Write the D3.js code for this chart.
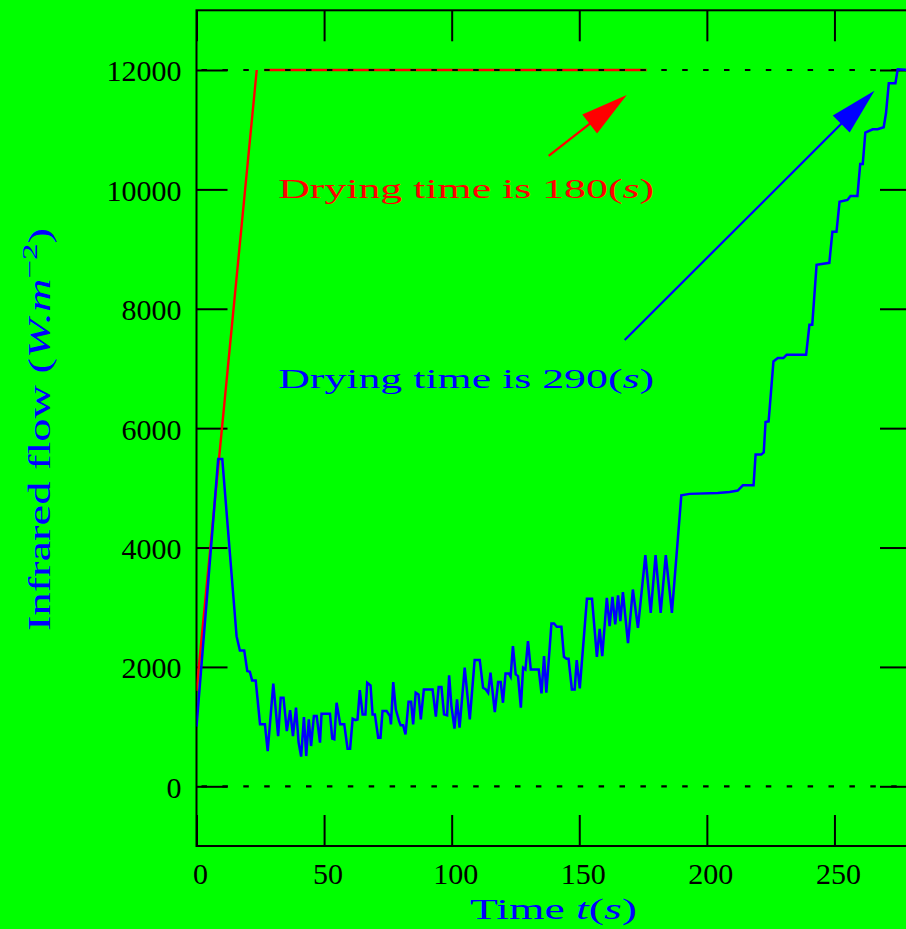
<!DOCTYPE html>
<html><head><meta charset="utf-8">
<script src="https://cdn.jsdelivr.net/npm/d3@7"></script>
<style>html,body{margin:0;padding:0;background:#00ff00;}svg{display:block;}</style>
</head><body>
<script>
// ---- data ----
const xTicks = [0, 50, 100, 150, 200, 250];
const yTicks = [0, 2000, 4000, 6000, 8000, 10000, 12000];
const refLevels = [0, 12000];

// measured series (blue): time (s), infrared flow (W.m^-2)
const blueTime = [0,8.5,10.1,15.7,17.0,18.7,19.9,20.9,21.8,23.2,24.9,26.8,27.9,30.1,32.0,33.0,34.1,35.4,36.7,37.8,39.0,40.0,41.0,42.1,43.0,44.0,44.9,46.0,47.1,48.4,49.0,52.3,53.2,54.0,54.9,56.3,57.9,59.2,60.2,61.2,62.3,63.1,64.0,65.1,66.2,66.9,68.2,69.0,69.9,71.2,72.1,72.9,74.5,75.8,76.2,77.1,78.1,79.4,80.0,81.0,81.9,83.1,84.1,84.9,85.9,87.0,87.9,89.1,92.5,93.8,94.9,96.0,97.0,98.2,99.0,99.9,101.1,102.1,103.1,105.1,107.1,109.0,111.0,112.3,113.4,114.3,115.2,116.9,118.2,119.2,120.1,121.1,122.4,123.1,124.0,125.1,126.0,127.1,128.0,128.9,129.9,131.0,134.1,135.2,136.2,137.1,139.1,140.1,141.2,143.0,144.0,145.0,145.8,147.1,148.2,149.0,150.2,153.0,155.0,156.9,158.0,159.0,160.8,161.9,163.0,164.1,165.2,166.1,167.1,169.1,171.0,173.0,175.9,178.0,179.9,181.9,183.9,186.3,190.0,193.2,204.3,208.9,212.1,214.1,218.3,219.1,221.3,222.3,223.0,224.2,226.1,227.8,230.0,231.3,238.9,240.2,241.3,243.0,248.0,249.2,250.8,252.0,255.1,256.3,259.0,260.1,261.1,262.1,265.0,266.9,269.3,270.2,271.3,273.9,274.8,280];
const blueFlow = [1000,5485,5485,2515,2276,2276,1930,1920,1774,1774,1040,1040,590,1720,840,1485,1485,925,1277,840,1317,736,497,1160,507,1121,675,1177,1177,731,1217,1217,800,787,1400,1040,1040,630,630,1133,1110,1120,1612,1205,1205,1735,1690,1205,1205,815,815,1260,1260,1177,1037,1746,1289,1093,1021,1021,870,1418,1418,1038,1568,1540,1121,1623,1623,1166,1662,1662,1205,1188,1858,1344,966,1456,982,1987,1121,2114,2114,1652,1623,1568,1903,1245,1746,1746,1400,1891,1891,1836,2348,1874,1846,1317,1987,1958,2432,1958,1958,1556,2181,1568,2728,2728,2673,2673,2170,2137,2137,1623,1623,2114,1640,3141,3141,2170,2639,2181,3158,2683,3175,2711,3197,2767,3252,2400,3297,2656,3872,2907,3872,2907,3872,2907,4876,4899,4915,4932,4954,5043,5043,5557,5557,5595,6104,6114,7118,7174,7174,7230,7230,7732,7732,8736,8770,9289,9289,9791,9824,9891,9891,10427,10427,10951,11007,11007,11041,11275,11777,11777,12012,12000];

// set-point series (red), NaN marks the break
const redTime = [0, 23.6, NaN, 26.6, 176.4];
const redFlow = [1600, 12000, NaN, 12000, 12000];

// annotations
const redArrow = {from: [138.0, 10560], to: [168.6, 11581]};
const blueArrow = {from: [167.8, 7478], to: [265.7, 11653]};
const redLabel = {t: 32, v: 10000, value: "180"};
const blueLabel = {t: 32, v: 6830, value: "290"};

// ---- drawing ----
const W = 906, H = 929;
const L = 196.5, R = 911, T = 10.3, B = 846;
const svg = d3.select('body').append('svg').attr('width', W).attr('height', H);
svg.append('rect').attr('width', W).attr('height', H).attr('fill', '#00ff00');

const x = d3.scaleLinear().domain([0, 280]).range([L, R]);
const y = d3.scaleLinear().domain([-1000, 13000]).range([B, T]);
const FONT = '"Liberation Serif", "DejaVu Serif", serif';

function styleAxis(g) {
  g.select('.domain').remove();
  g.selectAll('.tick line').attr('stroke', '#000').attr('stroke-width', 2);
}
// bottom
const gx = svg.append('g').attr('transform', `translate(0,${B})`)
  .call(d3.axisBottom(x).tickValues(xTicks).tickSizeInner(-31).tickSizeOuter(0).tickFormat(d3.format('d')));
styleAxis(gx);
gx.selectAll('text').attr('dy', null).attr('y', 38).attr('x', 3.5)
  .attr('font-family', FONT).attr('font-size', 30).attr('fill', '#000');
// top
const gt = svg.append('g').attr('transform', `translate(0,${T})`)
  .call(d3.axisTop(x).tickValues(xTicks).tickSizeInner(-31).tickSizeOuter(0).tickFormat(''));
styleAxis(gt);
// left
const gy = svg.append('g').attr('transform', `translate(${L},0)`)
  .call(d3.axisLeft(y).tickValues(yTicks).tickSizeInner(-31).tickSizeOuter(0).tickFormat(d3.format('d')));
styleAxis(gy);
gy.selectAll('text').attr('dy', null).attr('y', 11).attr('x', -15)
  .attr('font-family', FONT).attr('font-size', 30).attr('fill', '#000');
// right
const gr = svg.append('g').attr('transform', `translate(${R},0)`)
  .call(d3.axisRight(y).tickValues(yTicks).tickSizeInner(-31).tickSizeOuter(0).tickFormat(''));
styleAxis(gr);

// frame
svg.append('rect').attr('x', L).attr('y', T).attr('width', R - L).attr('height', B - T)
  .attr('fill', 'none').attr('stroke', '#000').attr('stroke-width', 2);

svg.append('clipPath').attr('id', 'plot').append('rect')
  .attr('x', L).attr('y', T).attr('width', R - L).attr('height', B - T);

const line = d3.line().defined(d => !isNaN(d[1])).x(d => x(d[0])).y(d => y(d[1]));

// red series
svg.append('path').datum(redTime.map((t, i) => [t, redFlow[i]]))
  .attr('d', line).attr('fill', 'none').attr('stroke', '#ff0000').attr('stroke-width', 2.4)
  .attr('clip-path', 'url(#plot)');

// dotted reference lines
refLevels.forEach(v => {
  svg.append('line').attr('x1', L).attr('x2', R).attr('y1', y(v)).attr('y2', y(v))
    .attr('stroke', '#000').attr('stroke-width', 2.2)
    .attr('stroke-dasharray', '5.5,15.4').attr('stroke-dashoffset', 15.9);
});

// blue series
svg.append('path').datum(blueTime.map((t, i) => [t, blueFlow[i]]))
  .attr('d', line).attr('fill', 'none').attr('stroke', '#0000ff').attr('stroke-width', 2.5)
  .attr('stroke-linejoin', 'miter').attr('clip-path', 'url(#plot)');

// arrows
function arrow(a, color) {
  const x1 = x(a.from[0]), y1 = y(a.from[1]), x2 = x(a.to[0]), y2 = y(a.to[1]);
  const dx = x2 - x1, dy = y2 - y1, len = Math.hypot(dx, dy);
  const ux = dx / len, uy = dy / len, hl = 47, hw = 12;
  const bx = x2 - ux * hl, by = y2 - uy * hl;
  svg.append('line').attr('x1', x1).attr('y1', y1).attr('x2', bx + ux * 4).attr('y2', by + uy * 4)
    .attr('stroke', color).attr('stroke-width', 2.2);
  svg.append('path').attr('d', `M${x2},${y2}L${bx - uy * hw},${by + ux * hw}L${bx + uy * hw},${by - ux * hw}Z`)
    .attr('fill', color);
}
arrow(redArrow, '#ff0000');
arrow(blueArrow, '#0000ff');

// labels
function dryLabel(l, color) {
  const t = svg.append('text').attr('x', x(l.t)).attr('y', y(l.v) + 9)
    .attr('font-family', FONT).attr('font-size', 28).attr('fill', color)
    .attr('textLength', 376).attr('lengthAdjust', 'spacingAndGlyphs');
  t.append('tspan').text('Drying time is ' + l.value + '(');
  t.append('tspan').attr('font-style', 'italic').text('s');
  t.append('tspan').text(')');
}
dryLabel(redLabel, '#ff0000');
dryLabel(blueLabel, '#0000ff');

// axis titles
const xt = svg.append('text').attr('x', 470).attr('y', 919)
  .attr('font-family', FONT).attr('font-size', 30).attr('fill', '#0000ff')
  .attr('textLength', 167).attr('lengthAdjust', 'spacingAndGlyphs');
xt.append('tspan').text('Time ');
xt.append('tspan').attr('font-style', 'italic').text('t');
xt.append('tspan').text('(');
xt.append('tspan').attr('font-style', 'italic').text('s');
xt.append('tspan').text(')');

const yt = svg.append('text').attr('transform', 'translate(50,631) rotate(-90)')
  .attr('font-family', FONT).attr('font-size', 31).attr('fill', '#0000ff')
  .attr('textLength', 403).attr('lengthAdjust', 'spacingAndGlyphs');
yt.append('tspan').text('Infrared flow (');
yt.append('tspan').attr('font-style', 'italic').text('W.m');
yt.append('tspan').attr('dy', -13).attr('font-size', 22).text('−2');
yt.append('tspan').attr('dy', 13).text(')');
</script>
</body></html>
